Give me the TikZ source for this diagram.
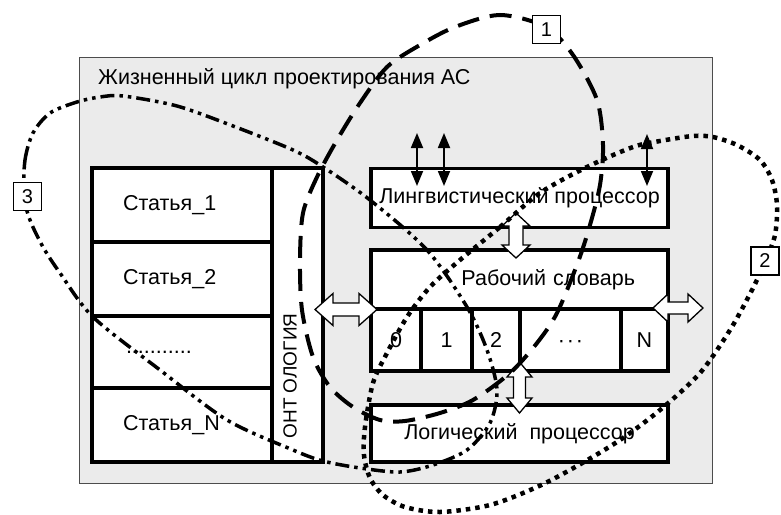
\documentclass[tikz,border=0pt]{standalone}
\usepackage{fontspec}
\setmainfont{Liberation Sans}
\usetikzlibrary{arrows.meta}
\tikzset{
  box/.style={draw, line width=3.5pt, fill=white, inner sep=0pt},
  txt/.style={font=\fontsize{21.5}{25}\selectfont, inner sep=0pt},
  cell/.style={box, txt, minimum height=62pt, text height=15.4pt, text depth=0pt},
  lab/.style={draw, line width=1.2pt, fill=white, inner sep=0pt, minimum width=28pt, minimum height=28pt, font=\fontsize{20}{22}\selectfont},
  hollow/.style={draw, fill=white, line width=1.3pt, line join=miter},
  thinarrow/.style={line width=1.8pt, {Triangle[length=15pt,width=12pt]}-{Triangle[length=15pt,width=12pt]}},
  curvedash/.style={line width=4pt, dash pattern=on 22pt off 11pt},
  curvedot/.style={line width=4.5pt, dash pattern=on 4.5pt off 5pt},
  curvedd/.style={line width=3.5pt, dash pattern=on 14pt off 5pt on 3.5pt off 5pt on 3.5pt off 5pt}
}
\begin{document}
\begin{tikzpicture}[x=1pt,y=-1pt]
\useasboundingbox (0,0) rectangle (781,514);
% outer frame
\node[draw=black!70, line width=1pt, fill=black!8, minimum width=633pt, minimum height=426pt, inner sep=0pt] (frame) at (395.5,270) {};
\node[txt, anchor=west] (title) at (98,79) {Жизненный цикл проектирования АС};
% articles
\node[box, minimum width=180pt, minimum height=74pt, txt, text width=118pt, align=left] (s1) at (182,205) {Статья\_1};
\node[box, minimum width=180pt, minimum height=74pt, txt, text width=118pt, align=left] (s2) at (182,279) {Статья\_2};
\node[box, minimum width=180pt, minimum height=72pt, txt, text width=118pt, align=left] (s3) at (182,352) {\hspace*{3pt}...........};
\node[box, minimum width=180pt, minimum height=74pt, txt, text width=118pt, align=left] (s4) at (182,425) {Статья\_N};
\node[box, minimum width=51pt, minimum height=294pt] (onto) at (297.5,315) {};
\node[txt, rotate=90, font=\fontsize{19}{21}\selectfont] (ontotext) at (290,376) {ОНТ ОЛОГИЯ};
% right boxes
\node[box, minimum width=297pt, minimum height=59pt, txt] (ling) at (519.5,198) {Лингвистический процессор};
\node[box, minimum width=297pt, minimum height=59pt, txt, text width=231pt, align=right] (dict) at (519.5,279.5) {Рабочий словарь};
\node[cell, minimum width=50pt] (c0) at (396,340) {0};
\node[cell, minimum width=51pt] (c1) at (446.5,340) {1};
\node[cell, minimum width=48pt] (c2) at (496,340) {2};
\node[cell, minimum width=101pt] (c3) at (570.5,340) {·\kern1.8pt·\kern1.8pt·};
\node[cell, minimum width=47pt] (cN) at (644.5,340) {N};
\node[box, minimum width=297pt, minimum height=57pt, txt] (logic) at (519.5,433.5) {Логический\ \ процессор};
% thin arrows
\coordinate (a1t) at (417,133); \coordinate (a1b) at (417,186);
\coordinate (a2t) at (444,133); \coordinate (a2b) at (444,186);
\coordinate (a3t) at (647,134); \coordinate (a3b) at (647,186);
\draw[thinarrow] (a1t) -- (a1b);
\draw[thinarrow] (a2t) -- (a2b);
\draw[thinarrow] (a3t) -- (a3b);
% hollow arrows
\draw[hollow, shift={(516,235.5)}] (0,-22.5) -- (14,-9.5) -- (7,-9.5) -- (7,9.5) -- (14,9.5) -- (0,22.5) -- (-14,9.5) -- (-7,9.5) -- (-7,-9.5) -- (-14,-9.5) -- cycle;
\draw[hollow, shift={(519.5,387.5)}] (0,-25.5) -- (12.5,-10.5) -- (6,-10.5) -- (6,10.5) -- (12.5,10.5) -- (0,25.5) -- (-12.5,10.5) -- (-6,10.5) -- (-6,-10.5) -- (-12.5,-10.5) -- cycle;
\draw[hollow, shift={(346,309.5)}] (-31,0) -- (-13,-16) -- (-13,-6.5) -- (13,-6.5) -- (13,-16) -- (31,0) -- (13,16) -- (13,6.5) -- (-13,6.5) -- (-13,16) -- cycle;
\draw[hollow, shift={(678,308)}] (-25,0) -- (-10,-14) -- (-10,-6) -- (10,-6) -- (10,-14) -- (25,0) -- (10,14) -- (10,6) -- (-10,6) -- (-10,14) -- cycle;
% curve 1 dashed
\draw[curvedash] plot[smooth cycle] coordinates {(500,15) (546,27) (573,55) (597,100) (603,145) (600,185) (590,225) (578,262) (557,313) (537,343) (510,373) (473,400) (440,413) (405,421) (380,420) (353,407) (330,387) (313,357) (302,310) (300,260) (303,213) (317,177) (337,140) (360,103) (387,67) (420,45) (455,27)};
% curve 2 dotted
\draw[curvedot] plot[smooth cycle] coordinates {(460,260) (500,227) (540,193) (587,167) (633,147) (660,141) (693,136) (713,137) (737,145) (760,160) (772,180) (777,205) (775,235) (765,262) (752,290) (730,330) (700,373) (660,410) (620,440) (577,466) (537,487) (490,505) (440,512) (405,507) (383,495) (370,478) (364,455) (365,427) (373,383) (387,353) (407,317) (430,287)};
% curve 3 dash-dot-dot
\draw[curvedd] plot[smooth cycle] coordinates {(24,196) (25,160) (33,133) (50,113) (77,102) (100,97) (123,96) (177,106) (233,126) (293,150) (323,167) (370,200) (427,250) (467,307) (487,350) (497,390) (490,423) (467,450) (433,465) (400,472) (360,468) (323,461) (293,450) (227,420) (160,370) (93,317) (60,273) (43,247) (30,220)};
% labels
\node[lab] (L1) at (546.5,29.5) {1};
\node[lab] (L2) at (765,261) {2};
\node[lab] (L3) at (27.5,196.5) {3};
\end{tikzpicture}
\end{document}
